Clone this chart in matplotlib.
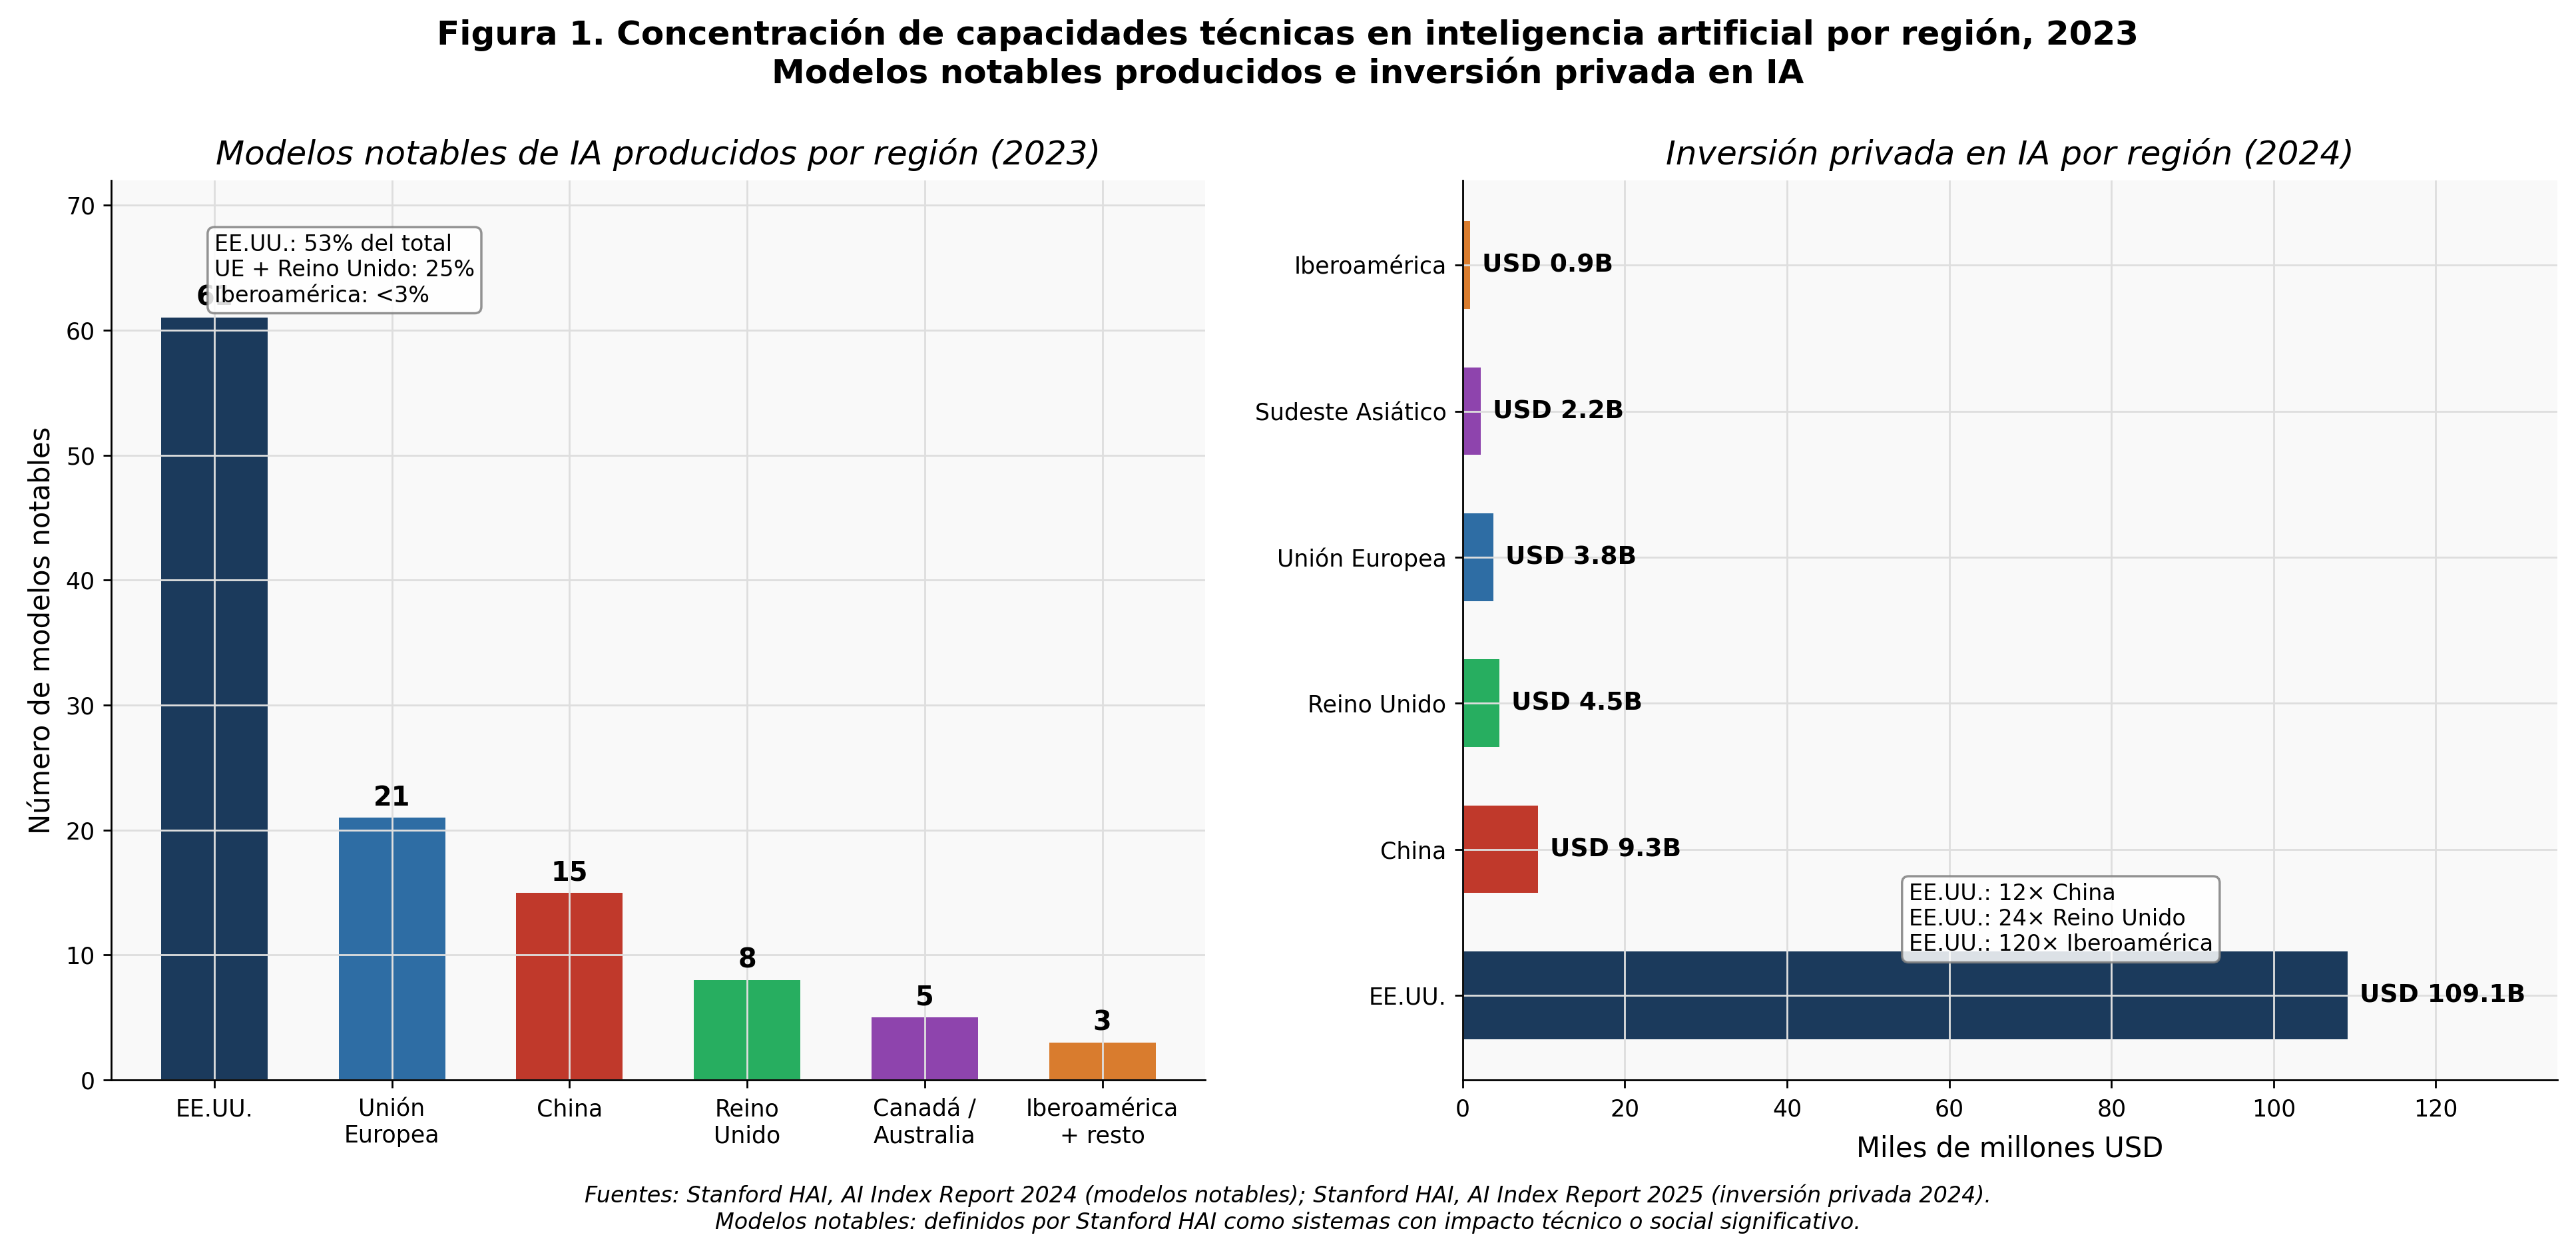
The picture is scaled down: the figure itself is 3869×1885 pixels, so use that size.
import matplotlib
matplotlib.use("Agg")
import matplotlib.pyplot as plt
import numpy as np

# ---- Data ----
model_regions = ["EE.UU.", "Unión\nEuropea", "China", "Reino\nUnido", "Canadá /\nAustralia", "Iberoamérica\n+ resto"]
model_counts = [61, 21, 15, 8, 5, 3]
model_colors = ["#1b3a5c", "#2e6da4", "#c0392b", "#27ae60", "#8e44ad", "#d97c2e"]

inv_regions = ["EE.UU.", "China", "Reino Unido", "Unión Europea", "Sudeste Asiático", "Iberoamérica"]
inv_values = [109.1, 9.3, 4.5, 3.8, 2.2, 0.9]
inv_colors = ["#1b3a5c", "#c0392b", "#27ae60", "#2e6da4", "#8e44ad", "#d97c2e"]

left_note = "EE.UU.: 53% del total\nUE + Reino Unido: 25%\nIberoamérica: <3%"
right_note = "EE.UU.: 12× China\nEE.UU.: 24× Reino Unido\nEE.UU.: 120× Iberoamérica"

suptitle = ("Figura 1. Concentración de capacidades técnicas en inteligencia artificial por región, 2023\n"
            "Modelos notables producidos e inversión privada en IA")
footer = ("Fuentes: Stanford HAI, AI Index Report 2024 (modelos notables); Stanford HAI, AI Index Report 2025 (inversión privada 2024).\n"
          "Modelos notables: definidos por Stanford HAI como sistemas con impacto técnico o social significativo.")

W, H, DPI = 3869, 1885, 250
fig = plt.figure(figsize=(W / DPI, H / DPI), dpi=DPI)
fig.patch.set_facecolor("white")

bg = "#f9f9f9"
grid_kw = dict(color="#dedede", linewidth=0.8)

# ---- Left panel ----
ax1 = fig.add_axes([0.0432, 0.1395, 0.4247, 0.7167])
ax1.set_facecolor(bg)
x = np.arange(len(model_regions))
ax1.bar(x, model_counts, width=0.6, color=model_colors)
for xi, v in zip(x, model_counts):
    ax1.text(xi, v + 0.5, str(v), ha="center", va="bottom", fontsize=11.5, fontweight="bold")
ax1.set_xticks(x)
ax1.set_xticklabels(model_regions, fontsize=10)
ax1.set_ylim(0, max(model_counts) * 1.18)
ax1.set_yticks(np.arange(0, 71, 10))
ax1.tick_params(axis="y", labelsize=10)
ax1.tick_params(axis="x", pad=4.5)
ax1.set_ylabel("Número de modelos notables", fontsize=12)
ax1.set_title("Modelos notables de IA producidos por región (2023)", fontsize=14.4, style="italic", pad=7)
ax1.grid(True, **grid_kw)
for s in ("top", "right"):
    ax1.spines[s].set_visible(False)
ax1.text(0.0, 64.8, left_note, ha="left", va="center", fontsize=9.6,
         bbox=dict(boxstyle="round,pad=0.3", facecolor="white", edgecolor="gray", alpha=0.85))

# ---- Right panel ----
ax2 = fig.add_axes([0.5678, 0.1395, 0.4250, 0.7167])
ax2.set_facecolor(bg)
y = np.arange(len(inv_regions))
ax2.barh(y, inv_values, height=0.6, color=inv_colors)
for yi, v in zip(y, inv_values):
    ax2.text(v + 1.5, yi, f"USD {v:.1f}B", ha="left", va="center", fontsize=10.8, fontweight="bold")
ax2.set_yticks(y)
ax2.set_yticklabels(inv_regions, fontsize=10)
ax2.set_xlim(0, 135)
ax2.set_xticks(np.arange(0, 121, 20))
ax2.tick_params(axis="x", labelsize=10, pad=4.5)
ax2.set_xlabel("Miles de millones USD", fontsize=12, labelpad=6)
ax2.set_title("Inversión privada en IA por región (2024)", fontsize=14.4, style="italic", pad=7)
ax2.grid(True, **grid_kw)
for s in ("top", "right"):
    ax2.spines[s].set_visible(False)
ax2.text(55, 0.52, right_note, ha="left", va="center", fontsize=9.6,
         bbox=dict(boxstyle="round,pad=0.3", facecolor="white", edgecolor="gray", alpha=0.85))

fig.text(0.5, 0.9568, suptitle, ha="center", va="center", fontsize=14.4, fontweight="bold")
fig.text(0.5, 0.037, footer, ha="center", va="center", fontsize=9.6, style="italic")

fig.savefig("out.png", dpi=DPI, facecolor="white")
